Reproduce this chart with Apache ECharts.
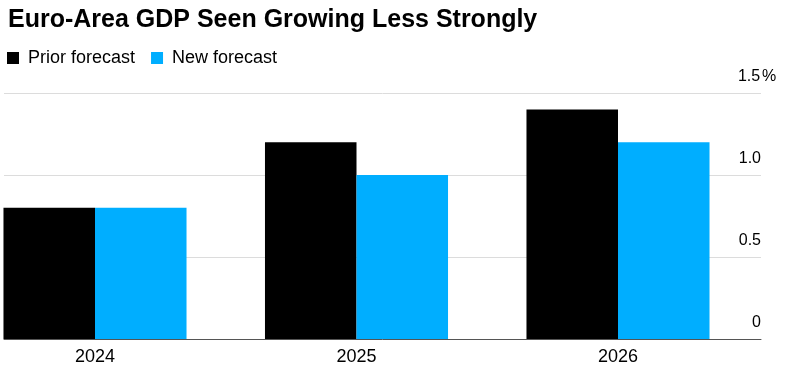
<!DOCTYPE html>
<html><head><meta charset="utf-8">
<script src="https://cdn.jsdelivr.net/npm/echarts@6/dist/echarts.min.js"></script>
<style>html,body{margin:0;padding:0;background:#fff}#c{width:786px;height:367px}</style>
</head><body><div id="c"></div>
<script>
const title = 'Euro-Area GDP Seen Growing Less Strongly';
const categories = ['2024', '2025', '2026'];
const priorForecast = [0.8, 1.2, 1.4];
const newForecast = [0.8, 1.0, 1.2];
const yTicks = [0, 0.5, 1.0, 1.5];
const seriesNames = ['Prior forecast', 'New forecast'];

const FONT = '"Liberation Sans", Arial, sans-serif';
const chart = echarts.init(document.getElementById('c'), null, {renderer: 'canvas'});
chart.setOption({
  animation: false,
  title: {text: title, left: 3, top: 3, textStyle: {fontFamily: FONT, fontSize: 25, fontWeight: 'bold', color: '#000'}},
  legend: {
    data: seriesNames, left: 2, top: 44, icon: 'rect', itemWidth: 12, itemHeight: 12, itemGap: 16,
    textStyle: {fontFamily: FONT, fontSize: 18, color: '#000', padding: [0,0,0,4]}
  },
  grid: [
    {left: 4, right: 25, top: 93, bottom: 28, outerBoundsMode: 'none'},
    {left: -35.75, width: 784.5, top: 93, bottom: 28, outerBoundsMode: 'none'}
  ],
  xAxis: [
    {gridIndex: 0, type: 'value', min: 0, max: 1, show: true, axisLine: {show: true, lineStyle: {color: '#555', width: 1}}, axisTick: {show: false}, axisLabel: {show: false}, splitLine: {show: false}},
    {gridIndex: 1, type: 'category', data: categories, axisLine: {show: false}, axisTick: {show: false},
     axisLabel: {fontFamily: FONT, fontSize: 18, color: '#000', margin: 9}}
  ],
  yAxis: [
    {gridIndex: 0, type: 'value', min: yTicks[0], max: yTicks[yTicks.length-1], interval: 0.5, position: 'right',
     axisLine: {show: false}, axisTick: {show: false},
     splitLine: {lineStyle: {color: '#dcdcdc', width: 1}},
     axisLabel: {inside: true, margin: 24, verticalAlign: 'bottom', align: 'left', fontFamily: FONT, fontSize: 16, color: '#000', padding: [0,0,8,0],
       formatter: function (v) {
         const s = v === 0 ? '0' : v.toFixed(1);
         return v === yTicks[yTicks.length-1] ? '{n|' + s + '}{p|%}' : '{n|' + s + '}';
       },
       rich: {n: {fontFamily: FONT, fontSize: 16, color: '#000', width: 24, align: 'right'}, p: {fontFamily: FONT, fontSize: 16, color: '#000', padding: [0,0,0,1]}}
     }},
    {gridIndex: 1, type: 'value', min: yTicks[0], max: yTicks[yTicks.length-1], show: false}
  ],
  series: [
    {name: seriesNames[0], type: 'bar', xAxisIndex: 1, yAxisIndex: 1, data: priorForecast, barGap: '0%', barCategoryGap: '30%', itemStyle: {color: '#000000'}},
    {name: seriesNames[1], type: 'bar', xAxisIndex: 1, yAxisIndex: 1, data: newForecast, itemStyle: {color: '#00AEFF'}}
  ]
});
</script></body></html>
